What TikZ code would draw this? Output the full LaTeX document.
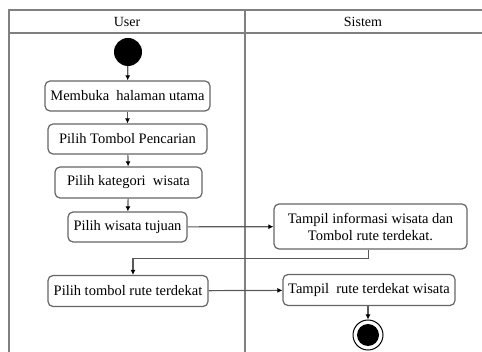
\documentclass[tikz,border=0pt]{standalone}
\usepackage{fontspec}
\setmainfont{Liberation Serif}
\usetikzlibrary{arrows.meta,positioning}

\tikzset{
  lane/.style = {draw=gray, line width=1.3pt},
  act/.style = {draw=gray!80!black, line width=1.2pt, rounded corners=5pt, fill=white,
    inner sep=0pt, align=center, font=\fontsize{14.5}{17}\selectfont},
  flow/.style = {draw=gray!70!black, line width=1.2pt, -{Latex[length=5pt,width=5pt,black]}},
}

\begin{document}
\begin{tikzpicture}[x=1pt, y=-1pt]
	\useasboundingbox (0,0) rectangle (482,352);
	% swimlanes
	\draw [lane] (482,10) -- (9,10) -- (9,352);
	\draw [lane] (9,33) -- (482,33);
	\draw [lane] (245,10) -- (245,352);
	\node [font=\fontsize{14}{16}\selectfont] (user) at (127,21.5) {User};
	\node [font=\fontsize{14}{16}\selectfont] (sistem) at (363,21.5) {Sistem};
	
	% start and end
	\node [circle, fill=black, minimum size=28pt, inner sep=0pt] (start) at (128,52) {};
	\node [circle, draw=black, line width=1pt, minimum size=30pt, inner sep=0pt] (stop) at (368,335) {};
	\node [circle, fill=black, minimum size=22pt, inner sep=0pt] (stopin) at (stop) {};
	
	% activities
	\node [act, minimum width=165pt, minimum height=30pt] (buka) at (127.5,96) {Membuka~ halaman utama};
	\node [act, minimum width=159pt, minimum height=30pt] (cari) at (127.5,139) {Pilih Tombol Pencarian};
	\node [act, minimum width=147pt, minimum height=31pt] (kategori) at (128.5,182.5) {Pilih kategori~ wisata};
	\node [act, minimum width=119pt, minimum height=30pt] (tujuan) at (127.5,227) {Pilih wisata tujuan};
	\node [act, minimum width=193pt, minimum height=45pt] (info) at (370.5,226.5) {Tampil informasi wisata dan\\Tombol rute terdekat.};
	\node [act, minimum width=160pt, minimum height=31pt] (tombol) at (128,291) {Pilih tombol rute terdekat};
	\node [act, minimum width=172pt, minimum height=31pt] (rute) at (369,290) {Tampil~ rute terdekat wisata};
	
	% flows
	\draw [flow] (start) -- (buka);
	\draw [flow] (buka) -- (cari);
	\draw [flow] (cari) -- (kategori);
	\draw [flow] (kategori) -- (tujuan);
	\draw [flow] (tujuan) -- (info);
	\draw [flow] ([xshift=-2pt]info.south) -- ++(0,9) -| ([xshift=5pt]tombol.north);
	\draw [flow] (tombol) -- (rute);
	\draw [flow] ([xshift=-1pt]rute.south) -- (stop);
\end{tikzpicture}
\end{document}
